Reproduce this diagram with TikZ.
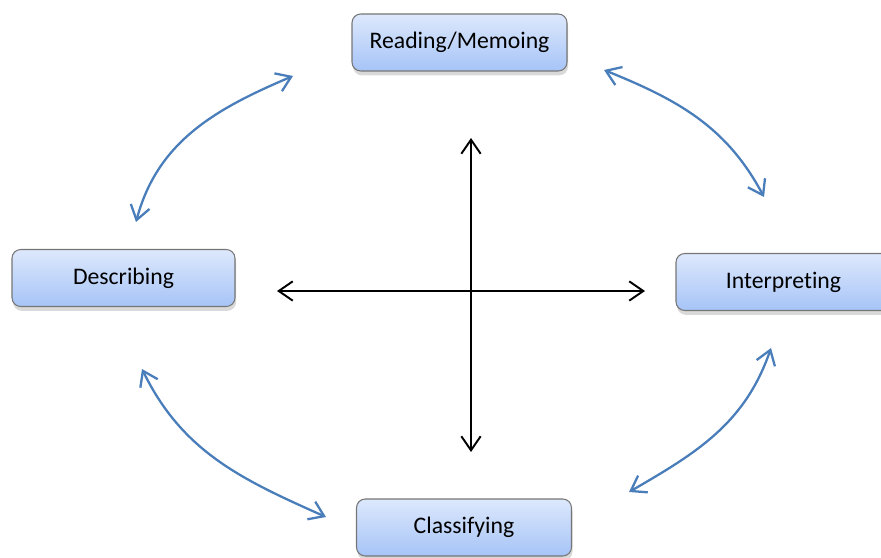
\documentclass[tikz,border=0pt]{standalone}
\usepackage{fontspec}
\setmainfont{Carlito}[Ligatures=NoCommon]
\usetikzlibrary{arrows.meta,shadows}

\definecolor{boxtop}{RGB}{221,232,252}
\definecolor{boxbottom}{RGB}{166,196,247}
\definecolor{boxline}{RGB}{118,118,118}
\definecolor{turnblue}{RGB}{74,126,187}

\begin{document}
\begin{tikzpicture}[
		stage/.style = {draw = boxline, line width = 0.6pt, rounded corners = 5pt,
			top color = boxtop, bottom color = boxbottom,
			minimum width = 4.3cm, minimum height = 1.14cm,
			font = \fontsize{13.5}{16}\selectfont,
			drop shadow = {opacity = .3, shadow xshift = 0.6pt, shadow yshift = -2.5pt}},
		crossarrow/.style = {{Straight Barb[length=8pt,width=11pt]}-{Straight Barb[length=8pt,width=11pt]}, line width = 1.1pt},
		turnarrow/.style = {crossarrow, draw = turnblue, line width = 1.3pt}
		]
		\useasboundingbox (0,0) rectangle (17.62,11.14);
		
		\node [stage] (read) at (9.19, 10.29) {Reading/Memoing};
		\node [stage, minimum width = 4.46cm] (desc) at (2.47, 5.58) {Describing};
		\node [stage] (interp) at (15.67, 5.50) {Interpreting};
		\node [stage] (class) at (9.28, 0.59) {Classifying};
		
		% centre cross
		\coordinate (up) at (9.42, 8.38);
		\coordinate (down) at (9.42, 2.10);
		\coordinate (left) at (5.54, 5.32);
		\coordinate (right) at (12.90, 5.32);
		\draw [crossarrow] (left) -- (right);
		\draw [crossarrow] (down) -- (up);
		
		% arrows round the boxes
		\coordinate (tl1) at (5.86, 9.62);
		\coordinate (tl2) at (2.72, 6.70);
		\coordinate (tr1) at (12.08, 9.74);
		\coordinate (tr2) at (15.28, 7.20);
		\coordinate (bl1) at (2.84, 3.76);
		\coordinate (bl2) at (6.52, 0.80);
		\coordinate (br1) at (15.42, 4.18);
		\coordinate (br2) at (12.58, 1.30);
		
		\draw [turnarrow] (tl1) to [out=203, in=75] (tl2);
		\draw [turnarrow] (tr1) to [out=-22, in=118] (tr2);
		\draw [turnarrow] (bl1) to [out=-64, in=156] (bl2);
		\draw [turnarrow] (br1) to [out=251, in=30] (br2);
		
\end{tikzpicture}
\end{document}
